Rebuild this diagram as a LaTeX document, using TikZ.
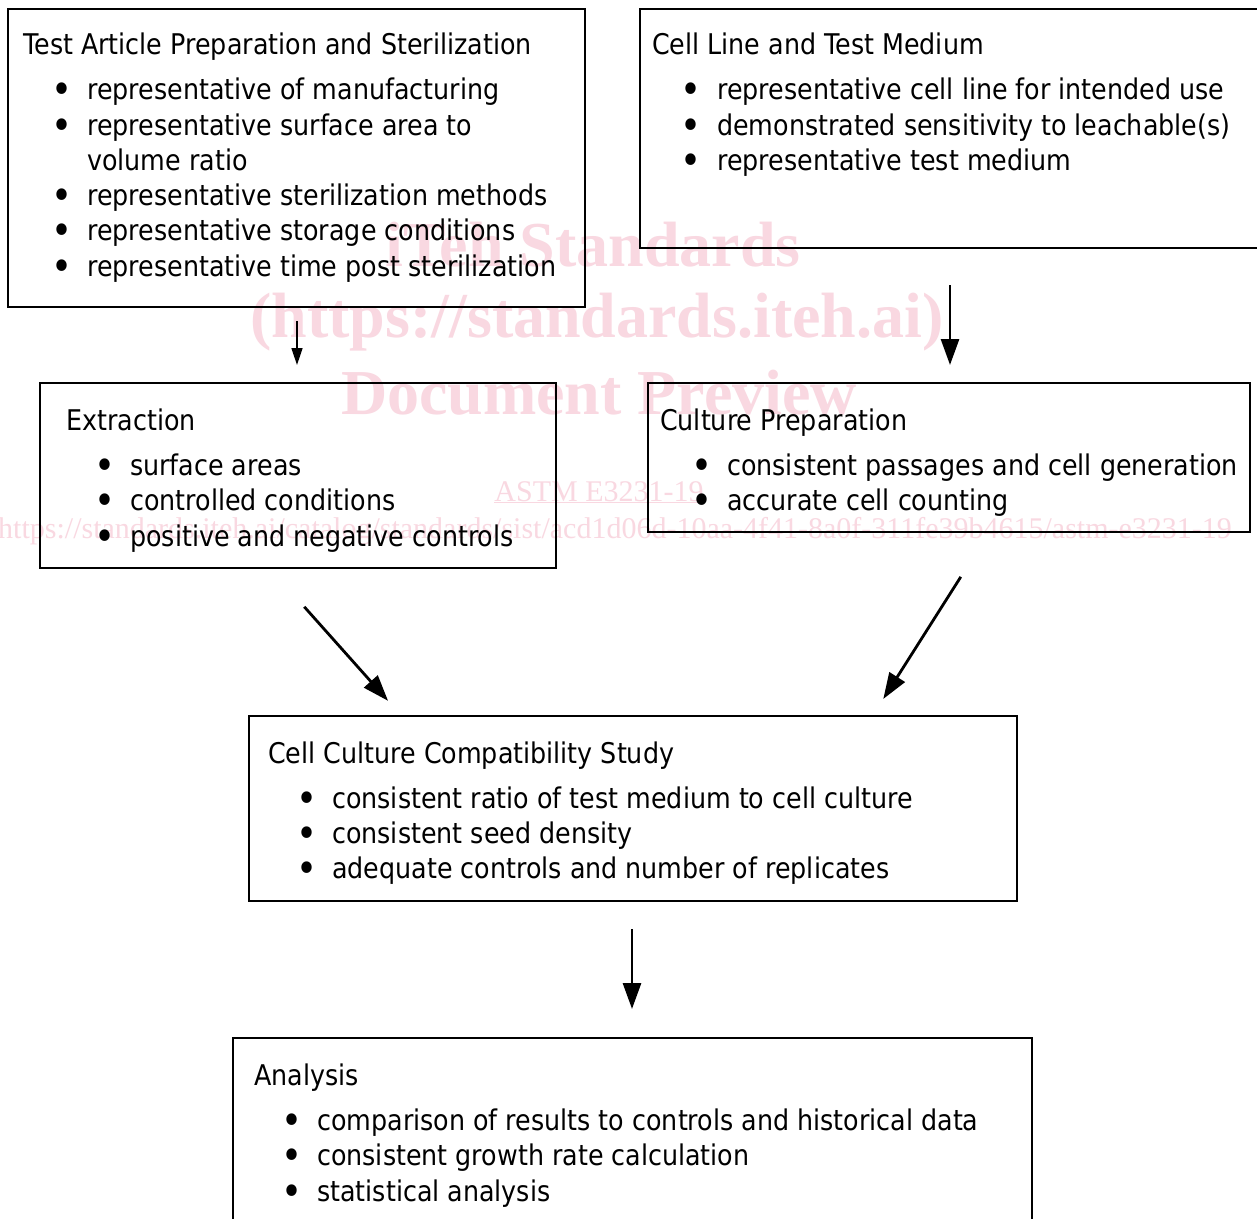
\documentclass[tikz,border=0pt]{standalone}
\usepackage{fontspec}
\setmainfont{DejaVu Sans}[FakeStretch=0.89]
\newfontfamily\wmfont{Liberation Serif}
\usetikzlibrary{arrows.meta}
\definecolor{wmpink}{RGB}{249,216,225}
\tikzset{
  box/.style={draw, line width=2pt, rectangle, inner sep=0pt},
  txt/.style={anchor=mid west, inner sep=0pt, yshift=-8pt, font=\fontsize{28.5}{34}\selectfont},
  bul/.style={anchor=center, inner sep=0pt, yshift=-4.5pt, font=\fontsize{40}{40}\selectfont},
  wm/.style={inner sep=0pt, text=wmpink},
  arrS/.style={line width=1.6pt, -{Triangle[length=17pt,width=11pt]}},
  arrB/.style={line width=2.8pt, -{Triangle[length=26pt,width=18pt]}}
}
\begin{document}
\begin{tikzpicture}[x=1pt,y=-1pt]
\useasboundingbox (0,0) rectangle (1257,1218);
\clip (0,0) rectangle (1257,1218);
\fill[white] (0,0) rectangle (1257,1218);
% watermark
\node[wm, font=\wmfont\bfseries\fontsize{64}{64}\selectfont] (wm1) at (593,245) {iTeh Standards};
\node[wm, font=\wmfont\bfseries\fontsize{64}{64}\selectfont] (wm2) at (597,322) {(https://standards.iteh.ai)};
\node[wm, font=\wmfont\bfseries\fontsize{64}{64}\selectfont] (wm3) at (599,393) {Document Preview};
\node[wm, font=\wmfont\fontsize{30}{30}\selectfont] (wm4) at (599,492) {ASTM E3231-19};
\draw[wmpink, line width=1.2pt] (wm4.south west) -- (wm4.south east);
\node[wm, anchor=east, font=\wmfont\fontsize{30}{30}\selectfont] (wm5) at (1232,531) {https://standards.iteh.ai/catalog/standards/sist/acd1d06d-10aa-4f41-8a0f-311fe39b4615/astm-e3231-19};
% boxes
\node[box, minimum width=577pt, minimum height=298pt] (b1) at (296.5,158) {};
\node[box, minimum width=630pt, minimum height=239pt] (b2) at (955,128.5) {};
\node[box, minimum width=516pt, minimum height=185pt] (b3) at (298,475.5) {};
\node[box, minimum width=602pt, minimum height=149pt] (b4) at (949,457.5) {};
\node[box, minimum width=768pt, minimum height=185pt] (b5) at (633,808.5) {};
\node[box, minimum width=799pt, minimum height=200pt] (b6) at (632.5,1138) {};
% box 1 text
\node[txt] (t1) at (23,44) {Test Article Preparation and Sterilization};
\node[bul] (t1b1) at (62,89) {•};  \node[txt] (t1l1) at (87,89) {representative of manufacturing};
\node[bul] (t1b2) at (62,125) {•}; \node[txt] (t1l2) at (87,125) {representative surface area to};
\node[txt] (t1l2b) at (87,160) {volume ratio};
\node[bul] (t1b3) at (62,195) {•}; \node[txt] (t1l3) at (87,195) {representative sterilization methods};
\node[bul] (t1b4) at (62,230) {•}; \node[txt] (t1l4) at (87,230) {representative storage conditions};
\node[bul] (t1b5) at (62,266) {•}; \node[txt] (t1l5) at (87,266) {representative time post sterilization};
% box 2 text
\node[txt] (t2) at (652,44) {Cell Line and Test Medium};
\node[bul] (t2b1) at (691,89) {•};  \node[txt] (t2l1) at (717,89) {representative cell line for intended use};
\node[bul] (t2b2) at (691,125) {•}; \node[txt] (t2l2) at (717,125) {demonstrated sensitivity to leachable(s)};
\node[bul] (t2b3) at (691,160) {•}; \node[txt] (t2l3) at (717,160) {representative test medium};
% box 3 text
\node[txt] (t3) at (66,420) {Extraction};
\node[bul] (t3b1) at (105,465) {•}; \node[txt] (t3l1) at (130,465) {surface areas};
\node[bul] (t3b2) at (105,500) {•}; \node[txt] (t3l2) at (130,500) {controlled conditions};
\node[bul] (t3b3) at (105,536) {•}; \node[txt] (t3l3) at (130,536) {positive and negative controls};
% box 4 text
\node[txt] (t4) at (660,420) {Culture Preparation};
\node[bul] (t4b1) at (702,465) {•}; \node[txt] (t4l1) at (727,465) {consistent passages and cell generation};
\node[bul] (t4b2) at (702,500) {•}; \node[txt] (t4l2) at (727,500) {accurate cell counting};
% box 5 text
\node[txt] (t5) at (268,753) {Cell Culture Compatibility Study};
\node[bul] (t5b1) at (307,798) {•}; \node[txt] (t5l1) at (332,798) {consistent ratio of test medium to cell culture};
\node[bul] (t5b2) at (307,833) {•}; \node[txt] (t5l2) at (332,833) {consistent seed density};
\node[bul] (t5b3) at (307,868) {•}; \node[txt] (t5l3) at (332,868) {adequate controls and number of replicates};
% box 6 text
\node[txt] (t6) at (254,1075) {Analysis};
\node[bul] (t6b1) at (292,1120) {•}; \node[txt] (t6l1) at (317,1120) {comparison of results to controls and historical data};
\node[bul] (t6b2) at (292,1155) {•}; \node[txt] (t6l2) at (317,1155) {consistent growth rate calculation};
\node[bul] (t6b3) at (292,1191) {•}; \node[txt] (t6l3) at (317,1191) {statistical analysis};
% arrows
\draw[arrS, shorten <=13pt, shorten >=17pt] (b1.south -| 297,0) -- (b3.north -| 297,0);
\draw[arrB, shorten <=36pt, shorten >=17pt] (b2.south -| 950,0) -- (b4.north -| 950,0);
\draw[arrB, shorten <=50.6pt, shorten >=19pt] (b3.south -| 270.6,0) -- (b5.north -| 400.7,0);
\draw[arrB, shorten <=51.9pt, shorten >=19pt] (b4.south -| 988.6,0) -- (b5.north -| 873.1,0);
\draw[arrB, shorten <=27pt, shorten >=28pt] (b5.south -| 632,0) -- (b6.north -| 632,0);
\end{tikzpicture}
\end{document}
